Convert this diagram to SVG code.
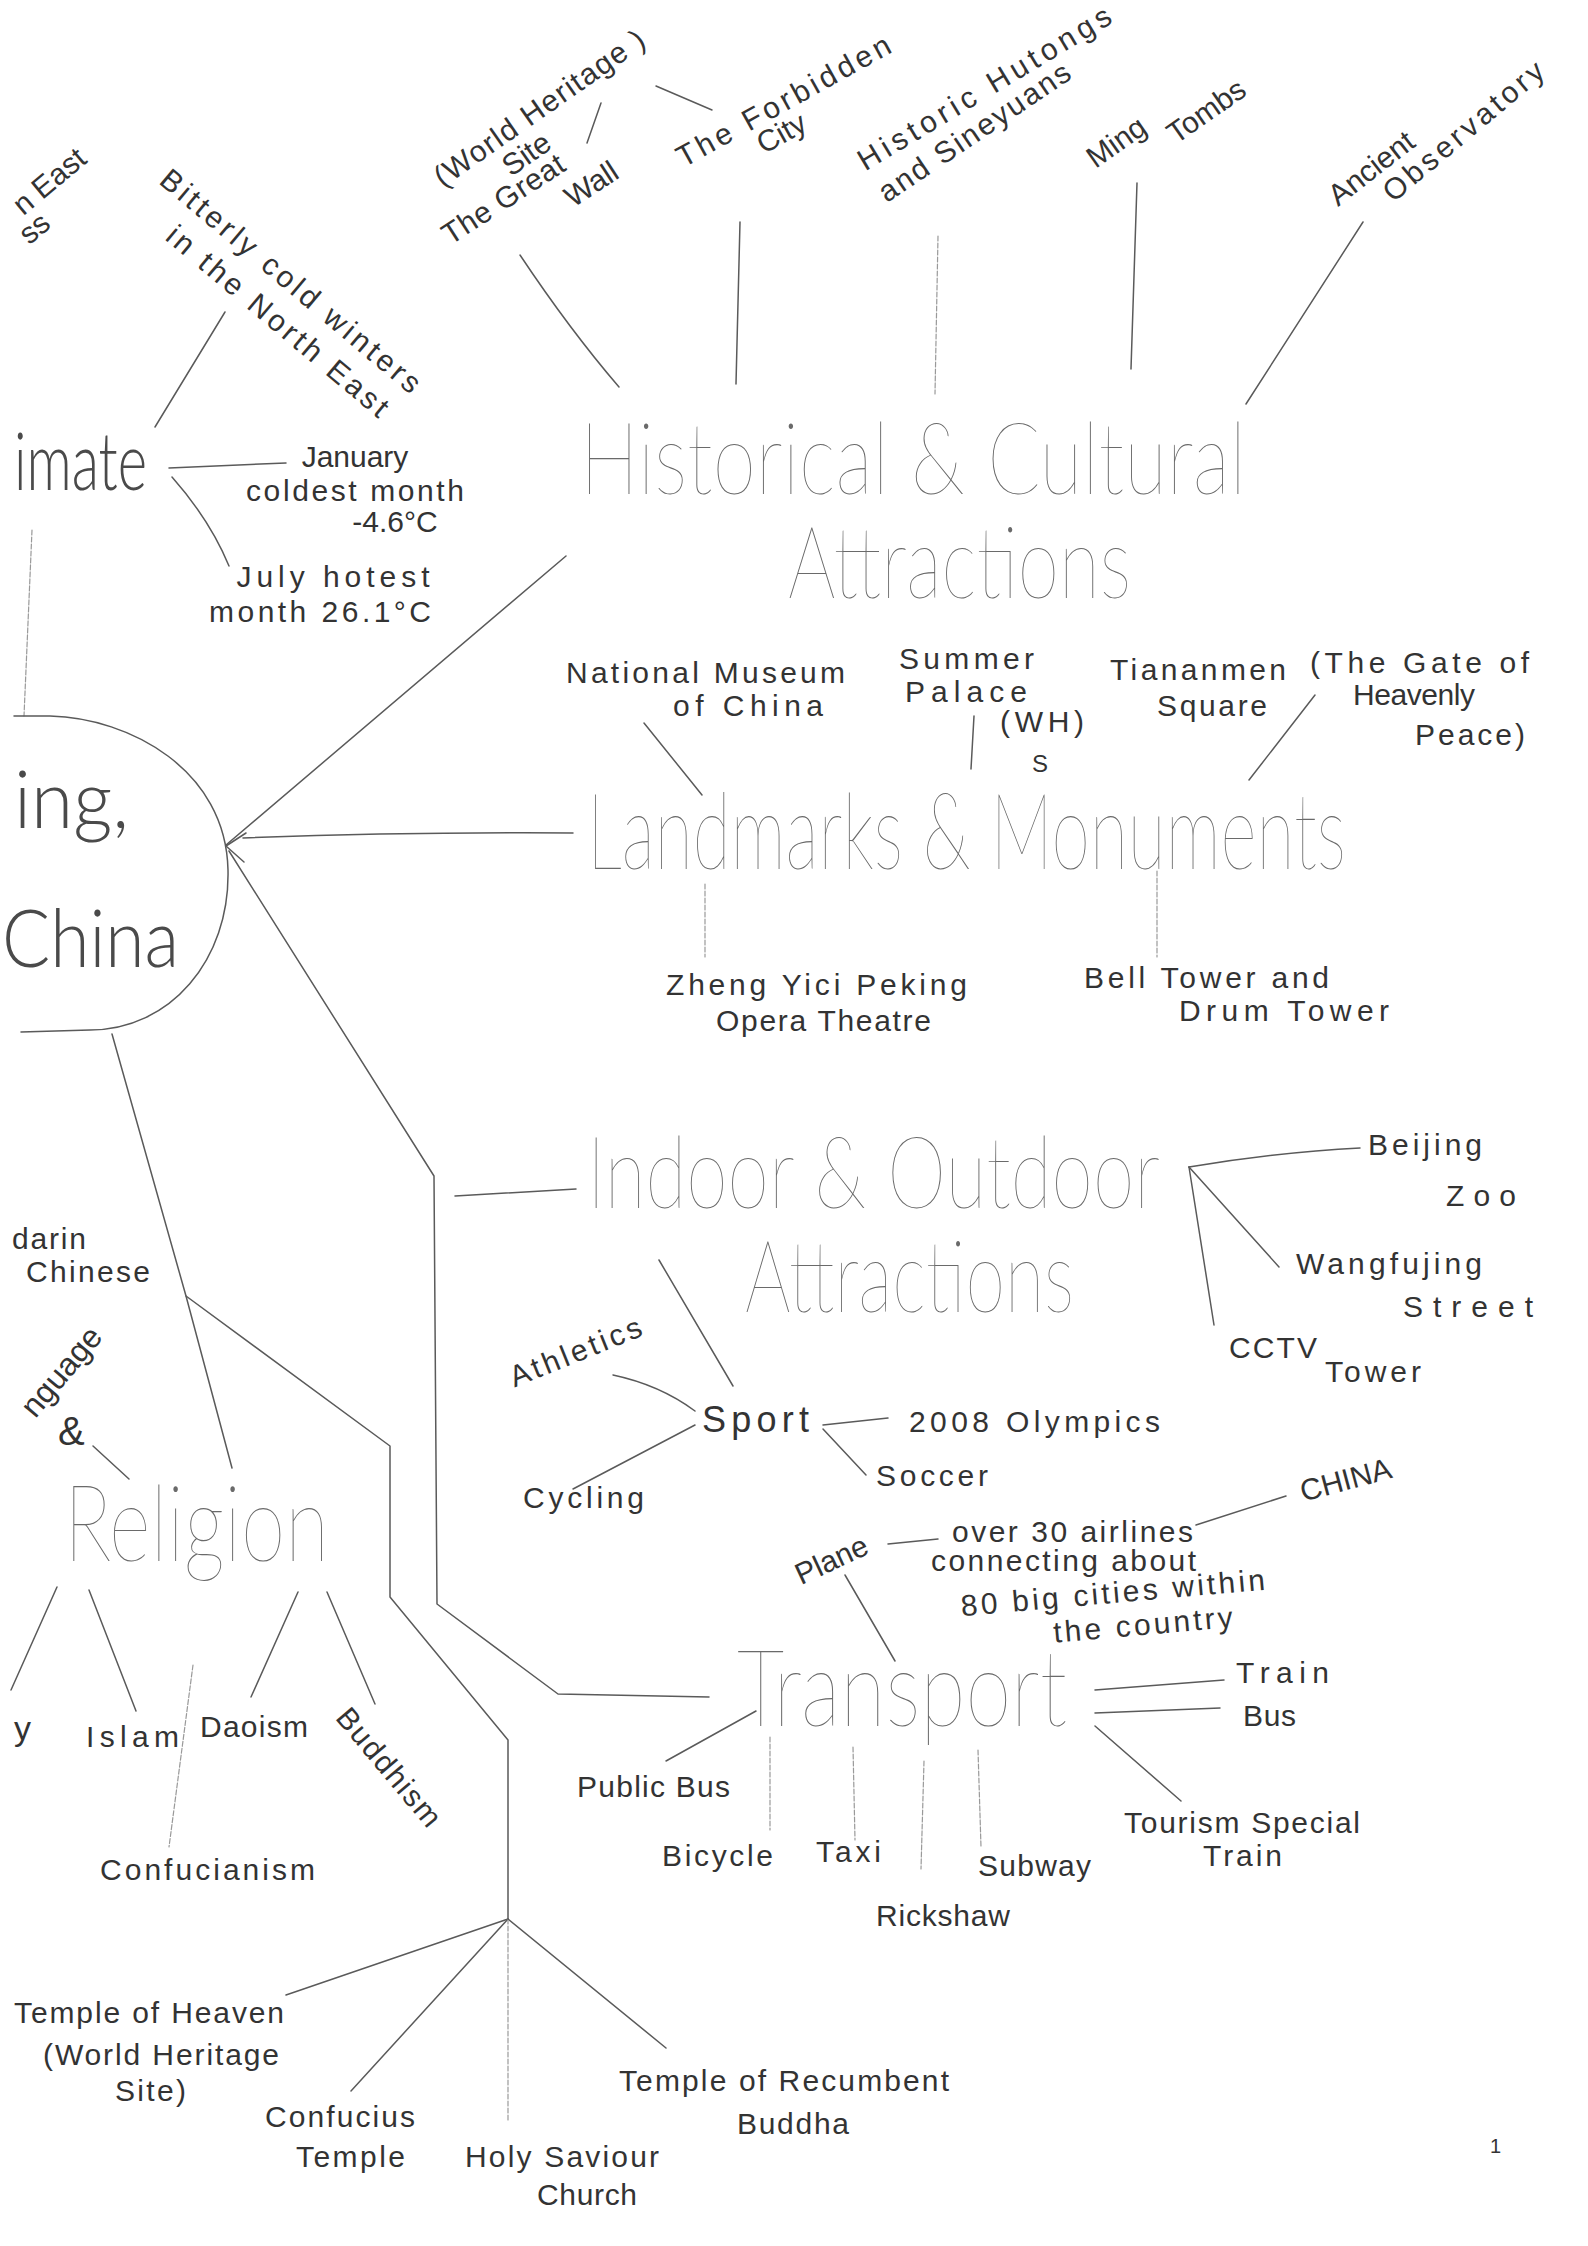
<svg xmlns="http://www.w3.org/2000/svg" width="1588" height="2246" viewBox="0 0 1588 2246">
<style>
.bg{fill:#ffffff}
.t{font-family:"Liberation Sans","DejaVu Sans",sans-serif;font-size:30px;fill:#333}
.tm{text-anchor:middle}
.h{font-family:Lato,"Open Sans","Liberation Sans",sans-serif;font-weight:200;font-size:100px;fill:#6a6a6a}
.hd{font-family:Lato,"Open Sans","Liberation Sans",sans-serif;font-weight:300;font-size:80px;fill:#4a4a4a}
.c{fill:none;stroke:#5a5a5a;stroke-width:1.5;stroke-linecap:round;stroke-linejoin:round}
.f{fill:none;stroke:#999;stroke-width:1.2;stroke-linecap:round;stroke-dasharray:5 2}
</style>
<rect class="bg" x="0" y="0" width="1588" height="2246"/>

<g id="connectors">
  <path class="c" d="M520,255 Q570,330 619,387"/>
  <path class="c" d="M740,222 L736,384"/>
  <path class="f" d="M938,236 L935,394"/>
  <path class="c" d="M1137,183 L1131,369"/>
  <path class="c" d="M1363,222 L1246,404"/>
  <path class="c" d="M587,143 L601,103"/>
  <path class="c" d="M656,86 L712,110"/>
  <path class="c" d="M155,427 L225,312"/>
  <path class="c" d="M169,468 L286,463"/>
  <path class="c" d="M172,477 Q210,520 229,566"/>
  <path class="f" d="M32,530 L24,716"/>
  <path class="c" d="M226,845 L566,556"/>
  <path class="c" d="M243,838 Q400,832 573,833"/>
  <path class="c" d="M246,833 L226,846 L244,862"/>
  <path class="c" d="M229,851 L434,1176 L437,1604 L558,1694 L709,1697"/>
  <path class="c" d="M455,1196 L576,1189"/>
  <path class="c" d="M112,1034 L186,1296 L232,1468"/>
  <path class="c" d="M186,1296 L390,1446 L390,1597 L508,1740 L508,1919"/>
  <path class="c" d="M508,1919 L286,1995"/>
  <path class="c" d="M508,1919 L351,2091"/>
  <path class="f" d="M508,1919 L508,2122"/>
  <path class="c" d="M508,1919 L666,2048"/>
  <path class="c" d="M93,1446 L129,1479"/>
  <path class="c" d="M57,1587 L11,1690"/>
  <path class="c" d="M89,1590 L136,1711"/>
  <path class="c" d="M298,1592 L251,1697"/>
  <path class="c" d="M327,1592 L375,1704"/>
  <path class="f" d="M193,1665 L169,1847"/>
  <path class="c" d="M644,723 L702,795"/>
  <path class="c" d="M974,716 L971,769"/>
  <path class="c" d="M1315,695 L1249,780"/>
  <path class="f" d="M705,884 L705,957"/>
  <path class="f" d="M1157,871 L1157,957"/>
  <path class="c" d="M1189,1167 Q1280,1152 1360,1148"/>
  <path class="c" d="M1189,1167 L1279,1267"/>
  <path class="c" d="M1189,1167 L1214,1325"/>
  <path class="c" d="M659,1260 L733,1386"/>
  <path class="c" d="M613,1375 Q660,1385 695,1411"/>
  <path class="c" d="M573,1489 L695,1425"/>
  <path class="c" d="M823,1425 L888,1418"/>
  <path class="c" d="M823,1429 L866,1475"/>
  <path class="c" d="M888,1544 L938,1539"/>
  <path class="c" d="M1196,1525 L1286,1496"/>
  <path class="c" d="M845,1575 L895,1661"/>
  <path class="c" d="M1095,1690 L1224,1680"/>
  <path class="c" d="M1095,1713 L1220,1708"/>
  <path class="c" d="M1095,1726 L1181,1801"/>
  <path class="c" d="M756,1711 L666,1761"/>
  <path class="f" d="M770,1737 L770,1830"/>
  <path class="f" d="M853,1747 L855,1840"/>
  <path class="f" d="M924,1761 L921,1869"/>
  <path class="f" d="M978,1750 L981,1847"/>
</g>

<g id="centre">
  <path class="c" d="M14,716 L50,716 C130,718 226,770 228,870 C230,960 170,1030 90,1030 L21,1032"/>
  <text class="hd" x="14" y="828" textLength="115" lengthAdjust="spacingAndGlyphs">ing,</text>
  <text class="hd" x="2" y="967" textLength="177" lengthAdjust="spacingAndGlyphs">China</text>
</g>

<g id="climate">
  <text class="hd" x="14" y="490" textLength="133" lengthAdjust="spacingAndGlyphs">imate</text>
  <text class="t" transform="translate(50,182) rotate(-40)" x="0" y="9" text-anchor="middle">n East</text>
  <text class="t" transform="translate(35,229) rotate(-40)" x="0" y="9" text-anchor="middle">ss</text>
  <text class="t" transform="translate(290,282) rotate(40)" x="0" y="9" text-anchor="middle" textLength="330">Bitterly cold winters</text>
  <text class="t" transform="translate(277,322) rotate(40)" x="0" y="9" text-anchor="middle" textLength="280">in the North East</text>
  <text class="t tm" x="355" y="467">January</text>
  <text class="t tm" x="355" y="501" textLength="218">coldest month</text>
  <text class="t tm" x="395" y="532">-4.6°C</text>
  <text class="t tm" x="333" y="587" textLength="193">July hotest</text>
  <text class="t tm" x="320" y="622" textLength="222">month 26.1°C</text>
</g>

<g id="historical">
  <text class="h" x="580" y="494" textLength="666" lengthAdjust="spacingAndGlyphs">Historical &amp; Cultural</text>
  <text class="h" x="788" y="598" textLength="343" lengthAdjust="spacingAndGlyphs">Attractions</text>
  <text class="t" transform="translate(540,109) rotate(-35)" x="0" y="9" text-anchor="middle" textLength="250">(World Heritage )</text>
  <text class="t" transform="translate(527,155) rotate(-35)" x="0" y="9" text-anchor="middle">Site</text>
  <text class="t" transform="translate(504,200) rotate(-33)" x="0" y="9" text-anchor="middle" textLength="140">The Great</text>
  <text class="t" transform="translate(592,185) rotate(-33)" x="0" y="9" text-anchor="middle">Wall</text>
  <text class="t" transform="translate(784,102) rotate(-29)" x="0" y="9" text-anchor="middle" textLength="240">The Forbidden</text>
  <text class="t" transform="translate(782,134) rotate(-29)" x="0" y="9" text-anchor="middle">City</text>
  <text class="t" transform="translate(985,89) rotate(-31)" x="0" y="9" text-anchor="middle" textLength="290">Historic Hutongs</text>
  <text class="t" transform="translate(975,133) rotate(-34)" x="0" y="9" text-anchor="middle" textLength="225">and Sineyuans</text>
  <text class="t" transform="translate(1117,143) rotate(-35)" x="0" y="9" text-anchor="middle">Ming</text>
  <text class="t" transform="translate(1207,112) rotate(-35)" x="0" y="9" text-anchor="middle">Tombs</text>
  <text class="t" transform="translate(1372,169) rotate(-38)" x="0" y="9" text-anchor="middle">Ancient</text>
  <text class="t" transform="translate(1464,132) rotate(-40)" x="0" y="9" text-anchor="middle" textLength="200">Observatory</text>
</g>

<g id="landmarks">
  <text class="h" style="font-size:106px" x="587" y="869" textLength="759" lengthAdjust="spacingAndGlyphs">Landmarks &amp; Monuments</text>
  <text class="t" x="566" y="683" textLength="279">National Museum</text>
  <text class="t" x="673" y="716" textLength="150">of China</text>
  <text class="t" x="899" y="669" textLength="135">Summer</text>
  <text class="t" x="905" y="702" textLength="122">Palace</text>
  <text class="t" x="1000" y="732" textLength="84">(WH)</text>
  <text class="t tm" style="font-size:24px" x="1040" y="772">S</text>
  <text class="t" x="1110" y="680" textLength="176">Tiananmen</text>
  <text class="t" x="1157" y="716" textLength="110">Square</text>
  <text class="t" x="1310" y="673" textLength="219">(The Gate of</text>
  <text class="t" x="1353" y="705" textLength="122">Heavenly</text>
  <text class="t" x="1415" y="745" textLength="110">Peace)</text>
  <text class="t" x="666" y="995" textLength="301">Zheng Yici Peking</text>
  <text class="t" x="716" y="1031" textLength="215">Opera Theatre</text>
  <text class="t" x="1084" y="988" textLength="245">Bell Tower and</text>
  <text class="t" x="1179" y="1021" textLength="210">Drum Tower</text>
</g>

<g id="indoor">
  <text class="h" x="587" y="1208" textLength="573" lengthAdjust="spacingAndGlyphs">Indoor &amp; Outdoor</text>
  <text class="h" x="745" y="1312" textLength="329" lengthAdjust="spacingAndGlyphs">Attractions</text>
  <text class="t" x="1368" y="1155" textLength="114">Beijing</text>
  <text class="t" x="1446" y="1206" textLength="70">Zoo</text>
  <text class="t" x="1296" y="1274" textLength="186">Wangfujing</text>
  <text class="t" x="1403" y="1317" textLength="130">Street</text>
  <text class="t" x="1229" y="1358" textLength="88">CCTV</text>
  <text class="t" x="1325" y="1382" textLength="96">Tower</text>
  <text class="t" style="font-size:36px" x="702" y="1432" textLength="107">Sport</text>
  <text class="t" transform="translate(576,1353) rotate(-22)" x="0" y="9" text-anchor="middle" textLength="140">Athletics</text>
  <text class="t" x="523" y="1508" textLength="121">Cycling</text>
  <text class="t" x="909" y="1432" textLength="251">2008 Olympics</text>
  <text class="t" x="876" y="1486" textLength="112">Soccer</text>
</g>

<g id="transport">
  <text class="h" style="font-size:106px" x="737" y="1726" textLength="330" lengthAdjust="spacingAndGlyphs">Transport</text>
  <text class="t" transform="translate(832,1561) rotate(-25)" x="0" y="9" text-anchor="middle">Plane</text>
  <text class="t" x="952" y="1542" textLength="241">over 30 airlines</text>
  <text class="t" x="931" y="1571" textLength="265">connecting about</text>
  <text class="t" transform="translate(1113,1594) rotate(-5)" x="0" y="9" text-anchor="middle" textLength="305">80 big cities within</text>
  <text class="t" transform="translate(1143,1626) rotate(-5)" x="0" y="9" text-anchor="middle" textLength="180">the country</text>
  <text class="t" transform="translate(1346,1481) rotate(-15)" x="0" y="9" text-anchor="middle">CHINA</text>
  <text class="t" x="1236" y="1683" textLength="93">Train</text>
  <text class="t" x="1243" y="1726" textLength="53">Bus</text>
  <text class="t" x="1124" y="1833" textLength="236">Tourism Special</text>
  <text class="t" x="1203" y="1866" textLength="79">Train</text>
  <text class="t" x="577" y="1797" textLength="153">Public Bus</text>
  <text class="t" x="662" y="1866" textLength="111">Bicycle</text>
  <text class="t" x="816" y="1862" textLength="65">Taxi</text>
  <text class="t" x="876" y="1926" textLength="134">Rickshaw</text>
  <text class="t" x="978" y="1876" textLength="113">Subway</text>
</g>

<g id="religion">
  <text class="t" x="12" y="1249" textLength="74">darin</text>
  <text class="t" x="26" y="1282" textLength="124">Chinese</text>
  <text class="t" style="font-size:32px" transform="translate(62,1372) rotate(-50)" x="0" y="10" text-anchor="middle">nguage</text>
  <text class="t" style="font-size:40px" x="58" y="1445">&amp;</text>
  <text class="h" style="font-size:106px" x="64" y="1561" textLength="265" lengthAdjust="spacingAndGlyphs">Religion</text>
  <text class="t" style="font-size:34px" x="14" y="1740">y</text>
  <text class="t" x="86" y="1747" textLength="93">Islam</text>
  <text class="t" x="200" y="1737" textLength="108">Daoism</text>
  <text class="t" transform="translate(388,1768) rotate(50)" x="0" y="9" text-anchor="middle" textLength="145">Buddhism</text>
  <text class="t" x="100" y="1880" textLength="215">Confucianism</text>
</g>

<g id="sites">
  <text class="t" x="14" y="2023" textLength="270">Temple of Heaven</text>
  <text class="t" x="43" y="2065" textLength="236">(World Heritage</text>
  <text class="t" x="115" y="2101" textLength="71">Site)</text>
  <text class="t" x="265" y="2127" textLength="150">Confucius</text>
  <text class="t" x="296" y="2167" textLength="109">Temple</text>
  <text class="t" x="465" y="2167" textLength="194">Holy Saviour</text>
  <text class="t" x="537" y="2205" textLength="100">Church</text>
  <text class="t" x="619" y="2091" textLength="330">Temple of Recumbent</text>
  <text class="t" x="737" y="2134" textLength="112">Buddha</text>
  <text class="t" style="font-size:20px" x="1490" y="2153">1</text>
</g>
</svg>
